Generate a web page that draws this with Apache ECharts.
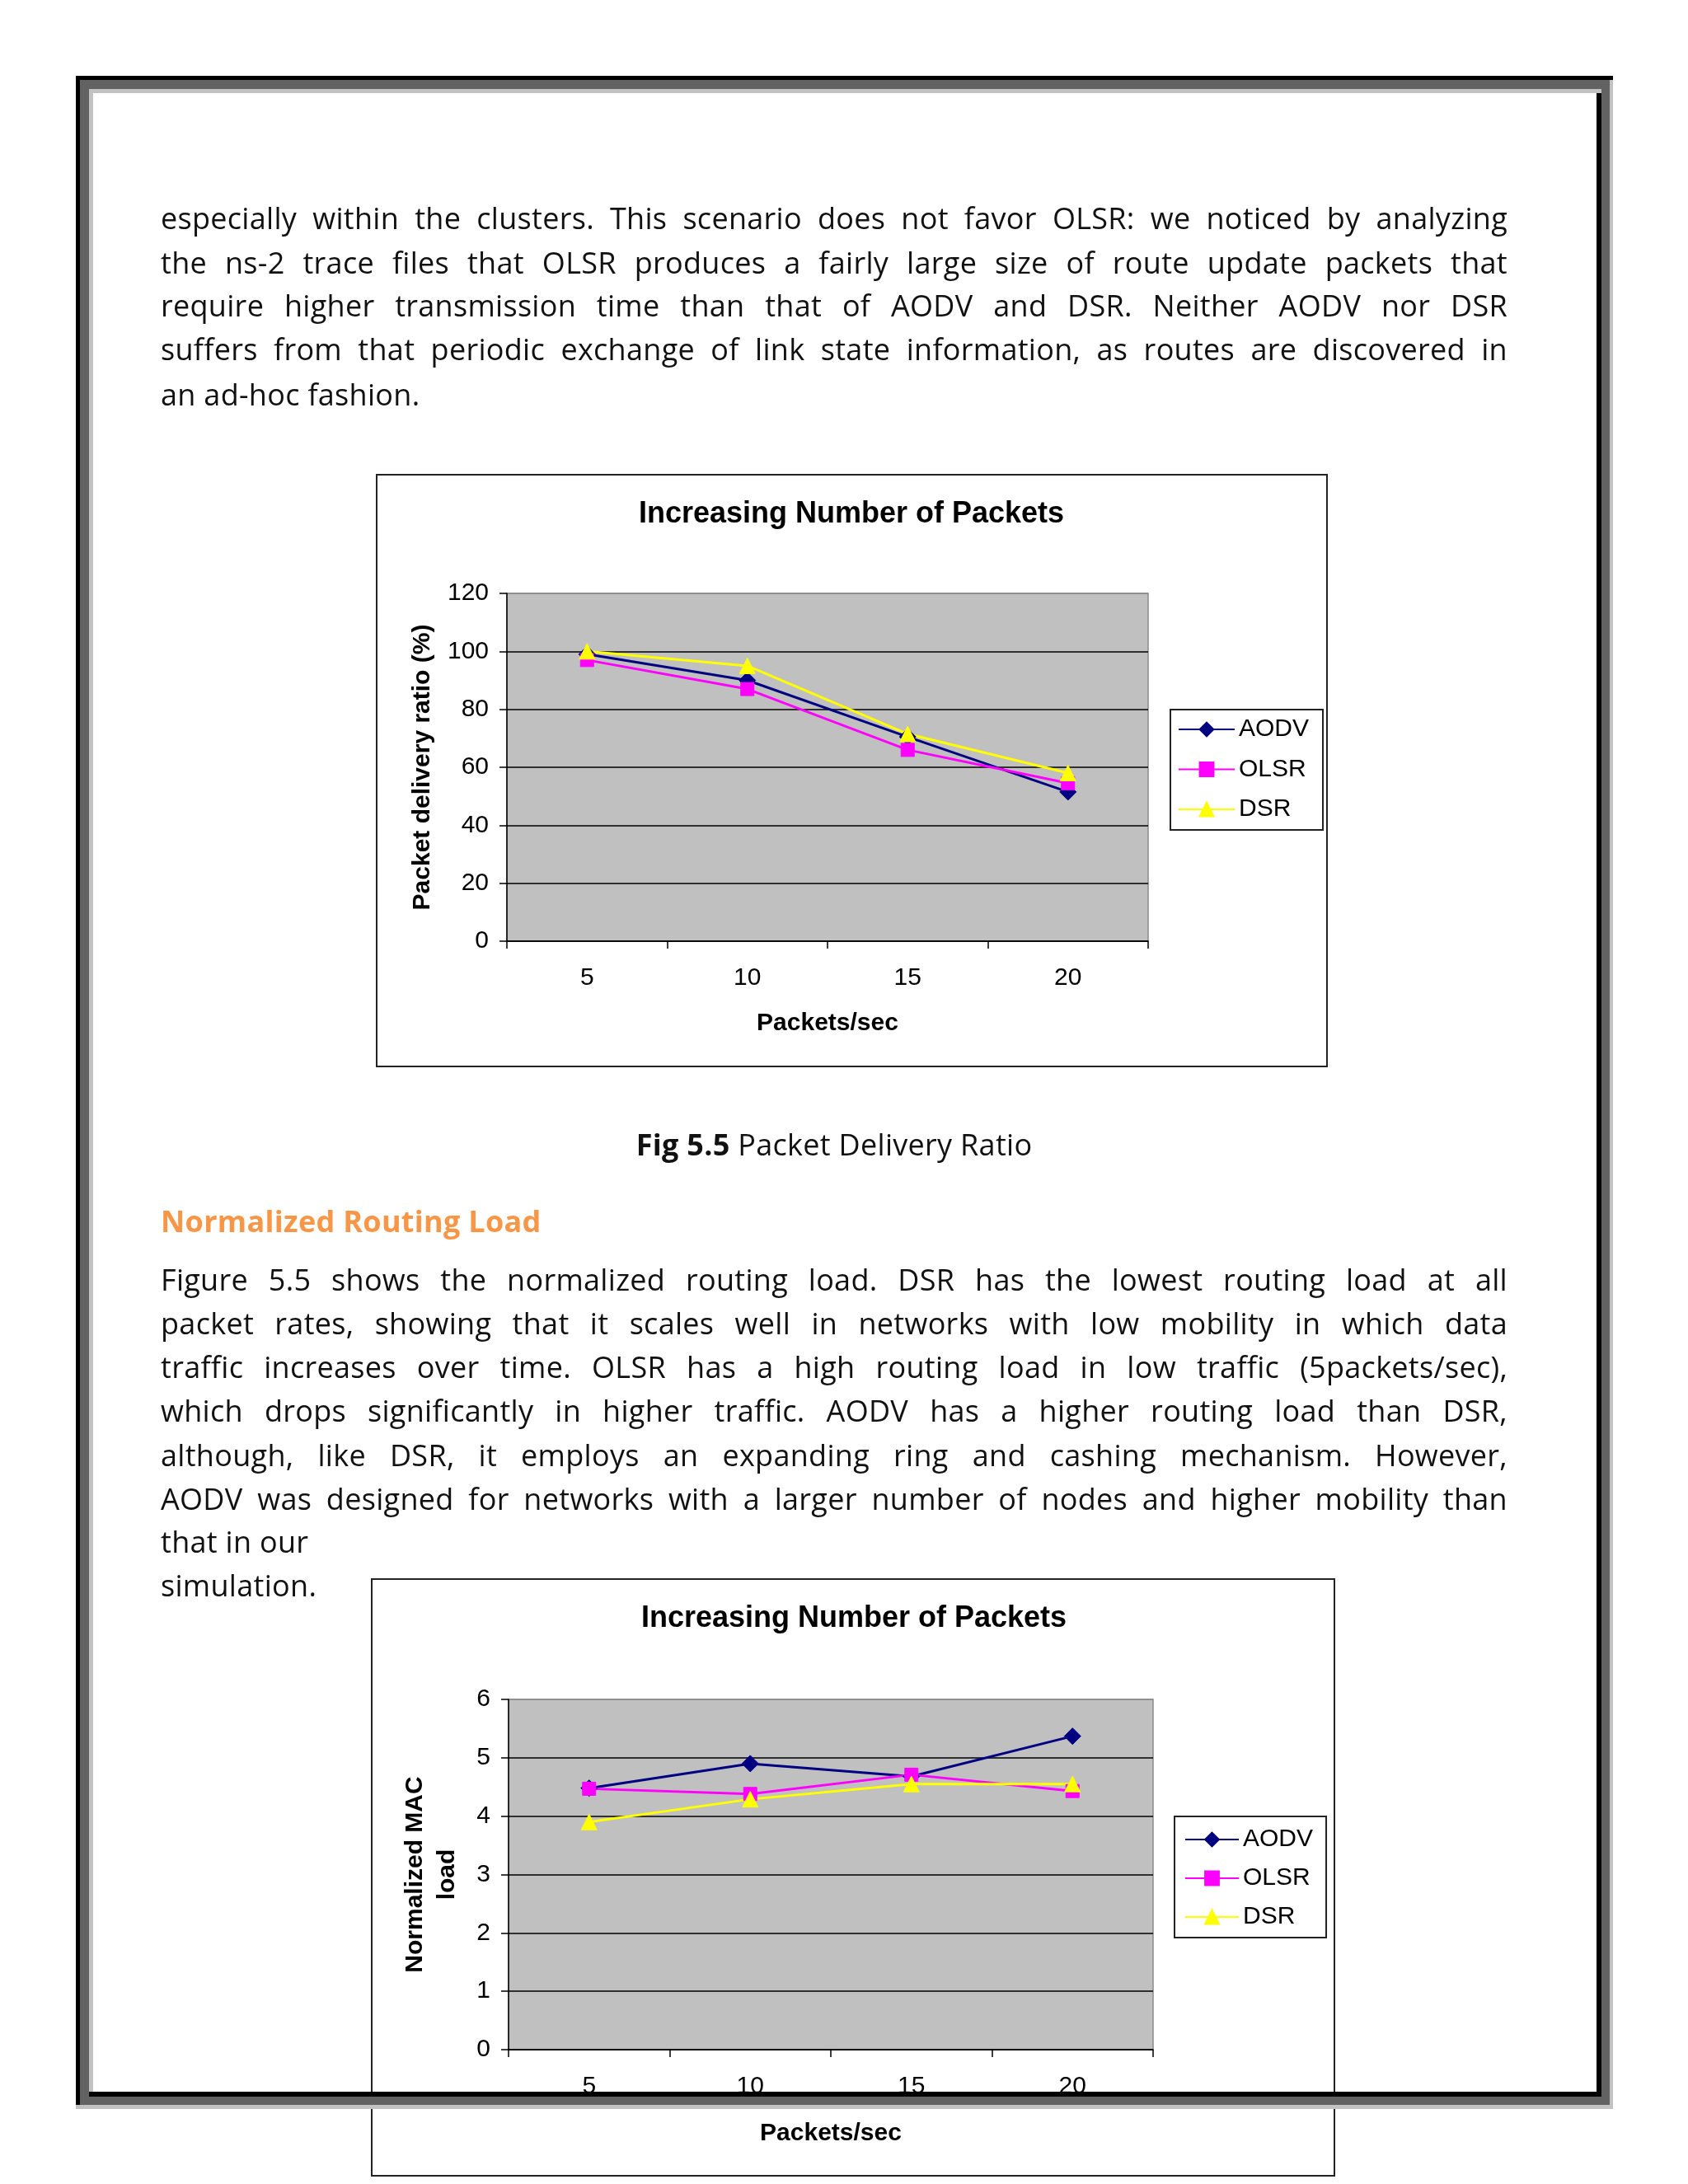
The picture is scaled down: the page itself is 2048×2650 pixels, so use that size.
<!DOCTYPE html>
<html>
<head>
<meta charset="utf-8">
<script src="https://cdn.jsdelivr.net/npm/echarts@6/dist/echarts.min.js"></script>
<style>
  html, body { margin: 0; padding: 0; background: #fff; }
  body { width: 2048px; height: 2650px; position: relative; overflow: hidden; }
  #chart { position: absolute; left: 0; top: 0; width: 2048px; height: 2650px; z-index: 1; }
  .ln { position: absolute; left: 195px; width: 1634px; height: 44px; line-height: 44px;
        font-family: "Open Sans", Lato, sans-serif; font-size: 36px; letter-spacing: 0.3px; color: #111; z-index: 5;
        text-align: justify; text-align-last: justify; white-space: nowrap; }
  .ln.last { text-align: left; text-align-last: left; }
  .cap { text-align: center; text-align-last: center; }
  .head { color: #F79646; font-weight: 700; letter-spacing: 0.3px; text-align: left; text-align-last: left; }
  .fr { position: absolute; z-index: 10; }
</style>
</head>
<body>
<div id="chart"></div>

<div class="ln" style="top:243px">especially within the clusters. This scenario does not favor OLSR: we noticed by analyzing</div>
<div class="ln" style="top:297px">the ns-2 trace files that OLSR produces a fairly large size of route update packets that</div>
<div class="ln" style="top:349px">require higher transmission time than that of AODV and DSR. Neither AODV nor DSR</div>
<div class="ln" style="top:402px">suffers from that periodic exchange of link state information, as routes are discovered in</div>
<div class="ln last" style="top:457px">an ad-hoc fashion.</div>

<div class="ln cap" style="top:1367px"><b>Fig 5.5</b> Packet Delivery Ratio</div>
<div class="ln head" style="top:1460px">Normalized Routing Load</div>

<div class="ln" style="top:1531px">Figure 5.5 shows the normalized routing load. DSR has the lowest routing load at all</div>
<div class="ln" style="top:1584px">packet rates, showing that it scales well in networks with low mobility in which data</div>
<div class="ln" style="top:1637px">traffic increases over time. OLSR has a high routing load in low traffic (5packets/sec),</div>
<div class="ln" style="top:1690px">which drops significantly in higher traffic. AODV has a higher routing load than DSR,</div>
<div class="ln" style="top:1744px">although, like DSR, it employs an expanding ring and cashing mechanism. However,</div>
<div class="ln" style="top:1797px">AODV was designed for networks with a larger number of nodes and higher mobility than</div>
<div class="ln last" style="top:1849px">that in our</div>
<div class="ln last" style="top:1902px">simulation.</div>

<!-- page frame -->
<div class="fr" style="left:92px;top:92px;width:1865px;height:5px;background:#000"></div>
<div class="fr" style="left:92px;top:92px;width:5px;height:2462px;background:#000"></div>
<div class="fr" style="left:97px;top:97px;width:1856px;height:11px;background:#626262"></div>
<div class="fr" style="left:97px;top:2544px;width:1856px;height:10px;background:#626262"></div>
<div class="fr" style="left:97px;top:108px;width:11px;height:2436px;background:#626262"></div>
<div class="fr" style="left:1943px;top:108px;width:10px;height:2436px;background:#626262"></div>
<div class="fr" style="left:1953px;top:97px;width:4px;height:2462px;background:#c2c2c2"></div>
<div class="fr" style="left:92px;top:2554px;width:1865px;height:5px;background:#c2c2c2"></div>
<div class="fr" style="left:108px;top:108px;width:1835px;height:5px;background:#c2c2c2"></div>
<div class="fr" style="left:108px;top:113px;width:5px;height:2425px;background:#c2c2c2"></div>
<div class="fr" style="left:1937px;top:113px;width:6px;height:2431px;background:#000"></div>
<div class="fr" style="left:108px;top:2538px;width:1835px;height:6px;background:#000"></div>

<script>
// ---- data ----
const categories = ['5', '10', '15', '20'];
const seriesNames = ['AODV', 'OLSR', 'DSR'];
// Fig 5.5 Packet delivery ratio (%)
const pdrAODV = [99, 90, 70.5, 51.5];
const pdrOLSR = [97, 87, 66, 54.5];
const pdrDSR  = [100, 95, 71.5, 58];
// Normalized MAC load
const mlAODV = [4.48, 4.9, 4.68, 5.37];
const mlOLSR = [4.47, 4.38, 4.71, 4.43];
const mlDSR  = [3.9, 4.29, 4.55, 4.55];
// axis ranges
const pdrAxis = { min: 0, max: 120, interval: 20 };
const mlAxis = { min: 0, max: 6, interval: 1 };

const FONT = '"Liberation Sans", Arial, sans-serif';
const colors = { AODV: '#000080', OLSR: '#FF00FF', DSR: '#FFFF00' };
const symbols = { AODV: 'diamond', OLSR: 'rect', DSR: 'triangle' };
const symSize = { AODV: 20, OLSR: 16, DSR: 19 };

function mkSeries(name, data, idx) {
  return {
    name: name, type: 'line', data: data,
    xAxisIndex: idx, yAxisIndex: idx,
    symbol: symbols[name], symbolSize: symSize[name], showSymbol: true,
    lineStyle: { color: colors[name], width: 3 },
    itemStyle: { color: colors[name], borderColor: colors[name], borderWidth: 1 },
    animation: false, z: 3
  };
}

function xAx(idx, gap) {
  return {
    gridIndex: idx, type: 'category', data: categories, boundaryGap: true,
    axisLine: { show: true, lineStyle: { color: '#000', width: 1.5 } },
    axisTick: { show: true, length: 9, lineStyle: { color: '#000', width: 1.5 } },
    axisLabel: { fontFamily: FONT, fontSize: 30, color: '#000', margin: 30 },
    splitLine: { show: false },
    name: 'Packets/sec', nameLocation: 'middle', nameGap: gap,
    nameTextStyle: { fontFamily: FONT, fontSize: 30, fontWeight: 'bold', color: '#000', lineHeight: 30 }
  };
}
function yAx(idx, rng, name, gap, lh) {
  return {
    gridIndex: idx, type: 'value', min: rng.min, max: rng.max, interval: rng.interval,
    axisLine: { show: true, lineStyle: { color: '#000', width: 1.5 } },
    axisTick: { show: true, length: 9, lineStyle: { color: '#000', width: 1.5 } },
    axisLabel: { fontFamily: FONT, fontSize: 30, color: '#000', margin: 22 },
    splitLine: { show: true, lineStyle: { color: ['#000', '#000', '#000', '#000', '#000', '#000', '#8a8a8a'], width: 1.5 } },
    name: name, nameLocation: 'middle', nameGap: gap,
    nameTextStyle: { fontFamily: FONT, fontSize: 30, fontWeight: 'bold', color: '#000', lineHeight: lh }
  };
}
function legend(left, top, padding, gap, iw) {
  return {
    show: true, orient: 'vertical', left: left, top: top, padding: padding, itemGap: gap,
    itemWidth: iw, itemHeight: 21, selectedMode: false,
    data: seriesNames,
    backgroundColor: '#fff', borderColor: '#222', borderWidth: 2, borderRadius: 0,
    textStyle: { fontFamily: FONT, fontSize: 30, color: '#000', lineHeight: 28 }
  };
}

const chart = echarts.init(document.getElementById('chart'), null, { renderer: 'canvas' });
chart.setOption({
  animation: false,
  backgroundColor: 'transparent',
  graphic: [
    { type: 'rect', z: -100, silent: true, shape: { x: 457, y: 576, width: 1153, height: 718 },
      style: { fill: '#fff', stroke: '#222', lineWidth: 2 } },
    { type: 'rect', z: -100, silent: true, shape: { x: 451, y: 1916, width: 1168, height: 724 },
      style: { fill: '#fff', stroke: '#222', lineWidth: 2 } }
  ],
  title: [
    { text: 'Increasing Number of Packets', left: 1033, top: 624, textAlign: 'center', textVerticalAlign: 'middle', padding: 0,
      textStyle: { fontFamily: FONT, fontSize: 36, fontWeight: 'bold', color: '#000' } },
    { text: 'Increasing Number of Packets', left: 1036, top: 1964, textAlign: 'center', textVerticalAlign: 'middle', padding: 0,
      textStyle: { fontFamily: FONT, fontSize: 36, fontWeight: 'bold', color: '#000' } }
  ],
  grid: [
    { left: 615, top: 720, width: 778, height: 422, show: true, backgroundColor: '#C0C0C0', borderColor: '#8a8a8a', borderWidth: 1.5 },
    { left: 617, top: 2062, width: 782, height: 425, show: true, backgroundColor: '#C0C0C0', borderColor: '#8a8a8a', borderWidth: 1.5 }
  ],
  xAxis: [xAx(0, 85), xAx(1, 87)],
  yAxis: [
    yAx(0, pdrAxis, 'Packet delivery ratio (%)', 87, 30),
    yAx(1, mlAxis, 'Normalized MAC\nload', 55, 39)
  ],
  legend: [
    legend(1420, 861, [9, 17, 10, 9], 18.5, 68),
    legend(1425, 2204, [13, 16, 10, 12], 17, 65)
  ],
  series: [
    mkSeries('AODV', pdrAODV, 0),
    mkSeries('OLSR', pdrOLSR, 0),
    mkSeries('DSR', pdrDSR, 0),
    mkSeries('AODV', mlAODV, 1),
    mkSeries('OLSR', mlOLSR, 1),
    mkSeries('DSR', mlDSR, 1)
  ]
});
</script>
</body>
</html>
